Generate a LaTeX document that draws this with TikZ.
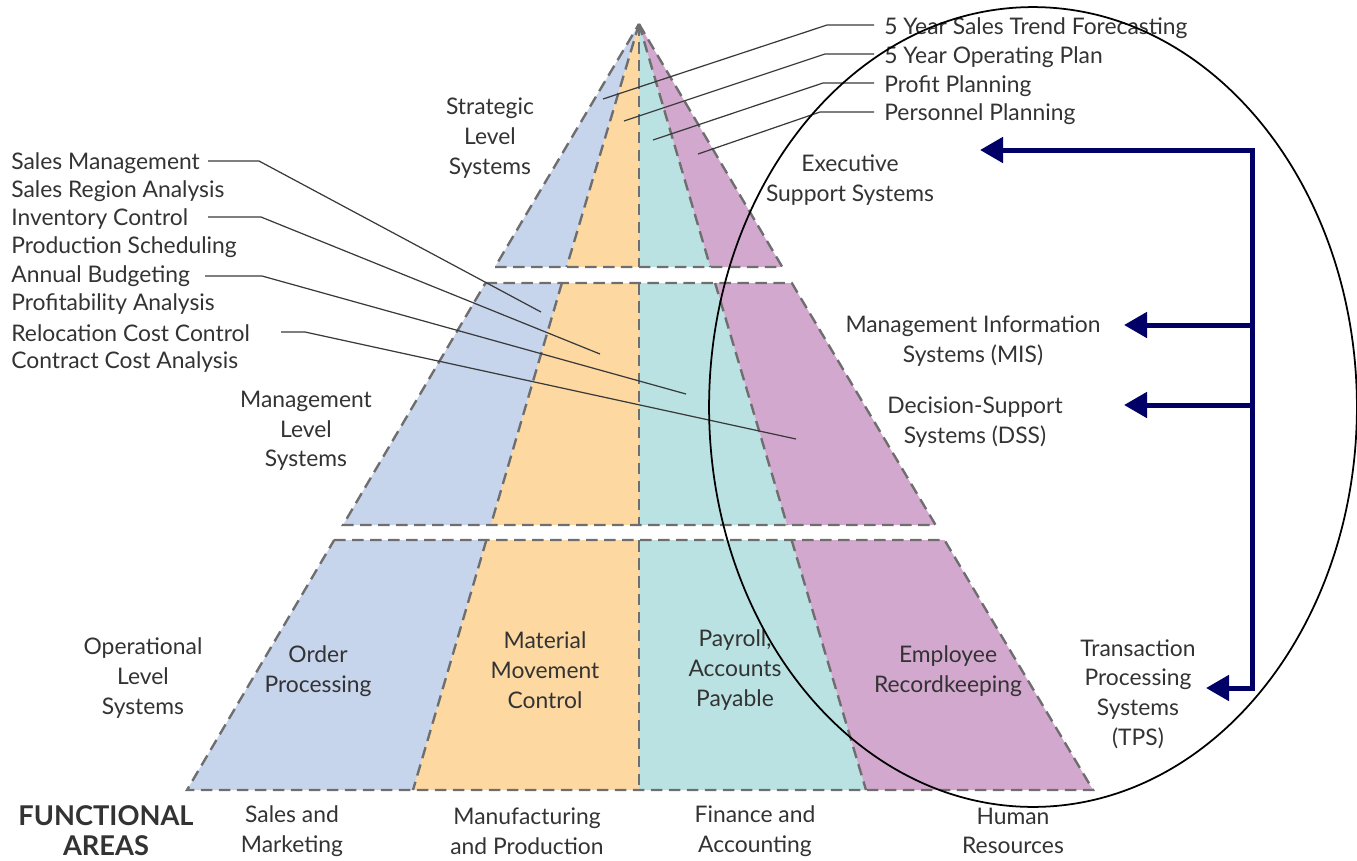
\documentclass[tikz,border=0pt]{standalone}
\usepackage{fontspec}
\setmainfont{Lato}
\usetikzlibrary{arrows.meta,calc}
\definecolor{cblue}{HTML}{C6D4EC}
\definecolor{corange}{HTML}{FDD9A1}
\definecolor{cteal}{HTML}{BAE2E2}
\definecolor{cpurple}{HTML}{D3A8CE}
\definecolor{dashgray}{HTML}{6E6E6E}
\definecolor{leadgray}{HTML}{3A3A3A}
\definecolor{textgray}{HTML}{333333}
\definecolor{navy}{HTML}{000066}
\begin{document}
\begin{tikzpicture}[x=0.02cm,y=-0.02cm,
  txt/.style={font=\fontsize{13}{16.9}\selectfont, text=textgray, align=center, inner sep=0pt},
  lbl/.style={txt, anchor=west, align=left},
  dashline/.style={draw=dashgray, line width=1.35pt, dash pattern=on 0.23cm off 0.13cm},
  leader/.style={draw=leadgray, line width=0.7pt},
  navyline/.style={draw=navy, line width=0.1cm},
  navyarrow/.style={navyline, -{Triangle[length=0.46cm,width=0.5cm]}},
]
\useasboundingbox (0,0) rectangle (1357,860);

% ---------- fills ----------
% strategic
\fill[cblue]   (639,24) -- (495,267) -- (566.6,267) -- cycle;
\fill[corange] (639,24) -- (566.6,267) -- (639,267) -- cycle;
\fill[cteal]   (639,24) -- (639,267) -- (710.3,267) -- cycle;
\fill[cpurple] (639,24) -- (710.3,267) -- (782.3,267) -- cycle;
% management
\fill[cblue]   (485.5,283) -- (561.9,283) -- (490.8,525) -- (343,525) -- cycle;
\fill[corange] (561.9,283) -- (639,283) -- (639,525) -- (490.8,525) -- cycle;
\fill[cteal]   (639,283) -- (715.1,283) -- (787.1,525) -- (639,525) -- cycle;
\fill[cpurple] (715.1,283) -- (791.8,283) -- (935.6,525) -- (787.1,525) -- cycle;
% operational
\fill[cblue]   (334.2,540) -- (486.4,540) -- (413,790) -- (187,790) -- cycle;
\fill[corange] (486.4,540) -- (639,540) -- (639,790) -- (413,790) -- cycle;
\fill[cteal]   (639,540) -- (791.6,540) -- (866,790) -- (639,790) -- cycle;
\fill[cpurple] (791.6,540) -- (944.5,540) -- (1093,790) -- (866,790) -- cycle;

% ---------- dashed outlines ----------
\draw[dashline] (639,24) -- (782.3,267) -- (495,267) -- cycle;
\draw[dashline] (639,24) -- (566.6,267);
\draw[dashline] (639,24) -- (639,267);
\draw[dashline] (639,24) -- (710.3,267);

\draw[dashline] (485.5,283) -- (791.8,283) -- (935.6,525) -- (343,525) -- cycle;
\draw[dashline] (561.9,283) -- (490.8,525);
\draw[dashline] (639,283) -- (639,525);
\draw[dashline] (715.1,283) -- (787.1,525);

\draw[dashline] (334.2,540) -- (944.5,540) -- (1093,790) -- (187,790) -- cycle;
\draw[dashline] (486.4,540) -- (413,790);
\draw[dashline] (639,540) -- (639,790);
\draw[dashline] (791.6,540) -- (866,790);

% ---------- level / system texts ----------
\node[txt] (strat) at (490,138) {Strategic\\Level\\Systems};
\node[txt] (ess) at (850,180) {Executive\\Support Systems};
\node[txt] (mgmt) at (306,431) {Management\\Level\\Systems};
\node[txt] (mis) at (973,341) {Management Information\\Systems (MIS)};
\node[txt] (dss) at (975,422) {Decision-Support\\Systems (DSS)};
\node[txt] (oper) at (143,678) {Operational\\Level\\Systems};
\node[txt] (tps) at (1138,694) {Transaction\\Processing\\Systems\\(TPS)};

\node[txt] (order) at (318,671) {Order\\Processing};
\node[txt] (material) at (545,670) {Material\\Movement\\Control};
\node[txt] (payroll) at (735,670) {Payroll,\\Accounts\\Payable};
\node[txt] (employee) at (948,671) {Employee\\Recordkeeping};

\node[txt, font=\fontsize{15.5}{17}\selectfont\bfseries] (func) at (106,831) {FUNCTIONAL\\AREAS};
\node[txt] (fa1) at (292,831) {Sales and\\Marketing};
\node[txt] (fa2) at (527,831) {Manufacturing\\and Production};
\node[txt] (fa3) at (755,831) {Finance and\\Accounting};
\node[txt] (fa4) at (1013,831) {Human\\Resources};

% ---------- top right labels ----------
\node[lbl] (t1) at (884,28) {5 Year Sales Trend Forecasting};
\node[lbl] (t2) at (884,57) {5 Year Operating Plan};
\node[lbl] (t3) at (884,86) {Profit Planning};
\node[lbl] (t4) at (884,114) {Personnel Planning};

\coordinate (t1s) at (874,25);  \coordinate (t1e) at (827,25);  \coordinate (t1p) at (603,99);
\coordinate (t2s) at (874,54);  \coordinate (t2e) at (825,54);  \coordinate (t2p) at (624,121);
\coordinate (t3s) at (874,83);  \coordinate (t3e) at (823,83);  \coordinate (t3p) at (653,140);
\coordinate (t4s) at (874,112); \coordinate (t4e) at (820,112); \coordinate (t4p) at (698,154);
\draw[leader] (t1s) -- (t1e) -- (t1p);
\draw[leader] (t2s) -- (t2e) -- (t2p);
\draw[leader] (t3s) -- (t3e) -- (t3p);
\draw[leader] (t4s) -- (t4e) -- (t4p);

% ---------- left labels ----------
\node[lbl] (l1) at (11,163) {Sales Management};
\node[lbl] (l2) at (11,191) {Sales Region Analysis};
\node[lbl] (l3) at (11,219) {Inventory Control};
\node[lbl] (l4) at (11,247) {Production Scheduling};
\node[lbl] (l5) at (11,276) {Annual Budgeting};
\node[lbl] (l6) at (11,304) {Profitability Analysis};
\node[lbl] (l7) at (11,333) {Relocation Cost Control};
\node[lbl] (l8) at (11,362) {Contract Cost Analysis};

\coordinate (l1s) at (208,161); \coordinate (l1e) at (259,161); \coordinate (l1p) at (541,312);
\coordinate (l3s) at (208,217); \coordinate (l3e) at (261,217); \coordinate (l3p) at (600,354);
\coordinate (l5s) at (205,276); \coordinate (l5e) at (262,276); \coordinate (l5p) at (686,394);
\coordinate (l7s) at (281,332); \coordinate (l7e) at (305,332); \coordinate (l7p) at (796,439);
\draw[leader] (l1s) -- (l1e) -- (l1p);
\draw[leader] (l3s) -- (l3e) -- (l3p);
\draw[leader] (l5s) -- (l5e) -- (l5p);
\draw[leader] (l7s) -- (l7e) -- (l7p);

% ---------- navy arrows ----------
\coordinate (vtop) at (1252,150);
\coordinate (vbot) at (1252,688);
\coordinate (vmis) at (1252,325);
\coordinate (vdss) at (1252,405);
\coordinate (essTip) at (980,150);
\coordinate (misTip) at (1124,325);
\coordinate (dssTip) at (1124,405);
\coordinate (tpsTip) at (1206,688);
\draw[navyline, line join=miter, {Triangle[length=0.46cm,width=0.5cm]}-{Triangle[length=0.46cm,width=0.5cm]}] (essTip) -- (vtop) -- (vbot) -- (tpsTip);
\draw[navyarrow] (vmis) -- (misTip);
\draw[navyarrow] (vdss) -- (dssTip);

% ---------- ellipse ----------
\coordinate (ringc) at (1033,407);
\draw[black, line width=1pt] (ringc) ellipse [x radius=6.48cm, y radius=8cm];
\end{tikzpicture}
\end{document}
